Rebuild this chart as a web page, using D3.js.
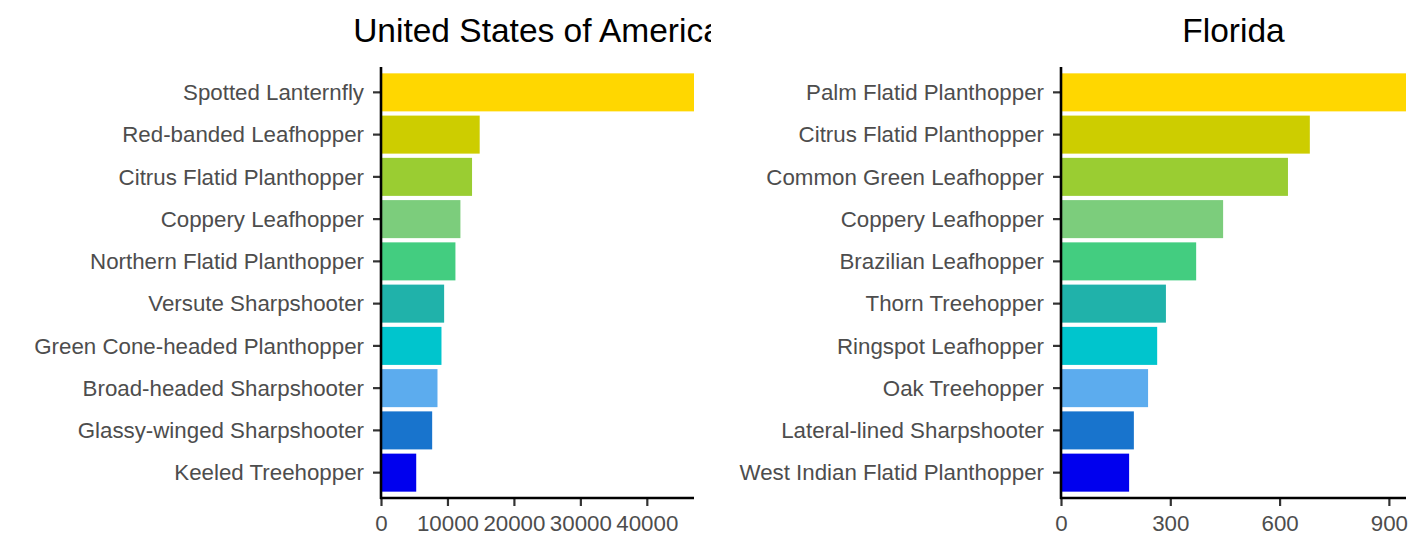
<!DOCTYPE html>
<html lang="en">
<head>
<meta charset="UTF-8">
<title>Top species: USA vs Florida</title>
<script src="https://d3js.org/d3.v7.min.js"></script>
<style>
  body { margin: 0; background: #fff; }
  svg { display: block; }
  .lbl { font-family: "Liberation Sans", Arial, sans-serif; font-size: 22.3px; fill: #4d4d4d; }
  .ttl { font-family: "Liberation Sans", Arial, sans-serif; font-size: 33.5px; fill: #000; }
</style>
</head>
<body>
<svg id="chart" width="1424" height="554"></svg>
<script>
// data
const usSpecies = ["Spotted Lanternfly", "Red-banded Leafhopper", "Citrus Flatid Planthopper",
  "Coppery Leafhopper", "Northern Flatid Planthopper", "Versute Sharpshooter",
  "Green Cone-headed Planthopper", "Broad-headed Sharpshooter", "Glassy-winged Sharpshooter",
  "Keeled Treehopper"];
const usCounts = [47100, 14850, 13700, 11950, 11200, 9500, 9100, 8500, 7700, 5300];
const usTicks = [0, 10000, 20000, 30000, 40000];

const flSpecies = ["Palm Flatid Planthopper", "Citrus Flatid Planthopper", "Common Green Leafhopper",
  "Coppery Leafhopper", "Brazilian Leafhopper", "Thorn Treehopper", "Ringspot Leafhopper",
  "Oak Treehopper", "Lateral-lined Sharpshooter", "West Indian Flatid Planthopper"];
const flCounts = [947, 683, 623, 445, 371, 288, 264, 239, 200, 187];
const flTicks = [0, 300, 600, 900];

const barColors = ["#FFD700", "#CDCD00", "#9ACD32", "#7CCD7C", "#43CD80",
  "#20B2AA", "#00C5CD", "#5CACEE", "#1874CD", "#0000EE"];

const svg = d3.select("#chart");

// left plot gets clipped where the right plot starts (title runs over)
svg.append("defs").append("clipPath").attr("id", "leftClip")
  .append("rect").attr("x", 0).attr("y", 0).attr("width", 711).attr("height", 554);

function drawPanel(g, title, species, counts, ticks, x0, x1) {
  const top = 67, bottom = 498;

  const x = d3.scaleLinear().domain([0, d3.max(counts)]).range([x0, x1]);
  const y = d3.scaleBand().domain(species).range([top, bottom])
    .paddingInner(0.1).paddingOuter(0.15);

  g.selectAll("rect.bar")
    .data(species)
    .join("rect")
    .attr("class", "bar")
    .attr("x", x(0))
    .attr("y", d => y(d))
    .attr("width", (d, i) => x(counts[i]) - x(0))
    .attr("height", y.bandwidth())
    .attr("fill", (d, i) => barColors[i]);

  // y axis
  const yAxis = g.append("g")
    .attr("transform", `translate(${x0},0)`)
    .call(d3.axisLeft(y).tickSize(8).tickPadding(9));
  yAxis.select(".domain").remove();
  yAxis.selectAll(".tick line").attr("stroke", "#333").attr("stroke-width", 2.2);
  yAxis.selectAll(".tick text").attr("class", "lbl").attr("fill", null).attr("dy", "0.35em");

  // x axis
  const xAxis = g.append("g")
    .attr("transform", `translate(0,${bottom})`)
    .call(d3.axisBottom(x).tickValues(ticks).tickSize(8).tickPadding(9).tickFormat(d3.format("d")));
  xAxis.select(".domain").remove();
  xAxis.selectAll(".tick line").attr("stroke", "#333").attr("stroke-width", 2.2);
  xAxis.selectAll(".tick text").attr("class", "lbl").attr("fill", null);

  // axis lines
  g.append("line")
    .attr("x1", x0).attr("x2", x0).attr("y1", top).attr("y2", bottom + 1)
    .attr("stroke", "#000").attr("stroke-width", 2.6);
  g.append("line")
    .attr("x1", x0 - 1).attr("x2", x1).attr("y1", bottom).attr("y2", bottom)
    .attr("stroke", "#000").attr("stroke-width", 2.6);

  g.append("text")
    .attr("class", "ttl")
    .attr("x", (x0 + x1) / 2)
    .attr("y", 42)
    .attr("text-anchor", "middle")
    .text(title);
}

const left = svg.append("g").attr("clip-path", "url(#leftClip)");
drawPanel(left, "United States of America", usSpecies, usCounts, usTicks, 381, 694);

const right = svg.append("g");
drawPanel(right, "Florida", flSpecies, flCounts, flTicks, 1061, 1406);
</script>
</body>
</html>
